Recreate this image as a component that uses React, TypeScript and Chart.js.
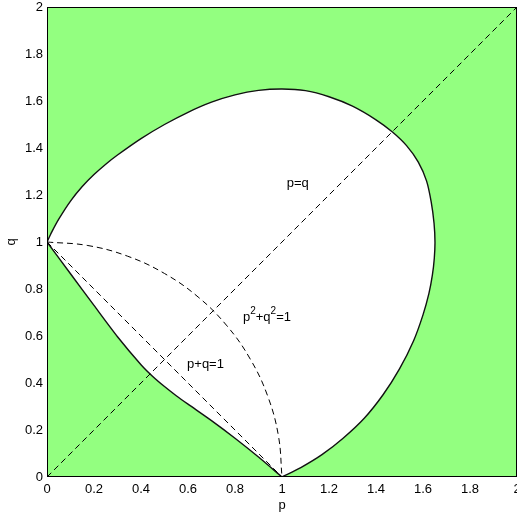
import React, { useEffect, useRef } from 'react';
import { Chart, registerables } from 'chart.js';

Chart.register(...registerables);

// Boundary of the white region (p, q), traced clockwise from (0,1)
const boundaryP = [
  0, 0.02, 0.05, 0.1, 0.15, 0.2, 0.25, 0.3, 0.4, 0.5, 0.6, 0.7, 0.8, 0.9, 1.0,
  1.1, 1.2, 1.3, 1.4, 1.47, 1.53, 1.58, 1.615, 1.635, 1.647, 1.651,
  1.648, 1.64, 1.625, 1.6, 1.56, 1.5, 1.43, 1.35, 1.26, 1.17, 1.08, 1.0, 1.0,
  0.9, 0.8, 0.7, 0.6, 0.55, 0.5, 0.45, 0.4, 0.3, 0.2, 0.1, 0,
];
const boundaryQ = [
  1, 1.042, 1.097, 1.174, 1.236, 1.287, 1.331, 1.37, 1.44, 1.5, 1.552, 1.595, 1.626, 1.645, 1.651,
  1.644, 1.618, 1.578, 1.52, 1.468, 1.41, 1.34, 1.26, 1.17, 1.08, 1.0,
  0.93, 0.86, 0.78, 0.69, 0.58, 0.46, 0.35, 0.25, 0.165, 0.095, 0.04, 0, 0,
  0.085, 0.165, 0.24, 0.31, 0.346, 0.385, 0.428, 0.478, 0.597, 0.73, 0.865, 1,
];

// Quarter circle p^2 + q^2 = 1
const circleP = [0, 0.174, 0.342, 0.5, 0.643, 0.766, 0.866, 0.94, 0.985, 1];
const circleQ = [1, 0.985, 0.94, 0.866, 0.766, 0.643, 0.5, 0.342, 0.174, 0];

// p = q
const diagP = [0, 2];
const diagQ = [0, 2];

// p + q = 1
const sumP = [0, 1];
const sumQ = [1, 0];

const tickValues = [0, 0.2, 0.4, 0.6, 0.8, 1, 1.2, 1.4, 1.6, 1.8, 2];
const tickLabels = ['0', '0.2', '0.4', '0.6', '0.8', '1', '1.2', '1.4', '1.6', '1.8', '2'];

// Annotation texts: parts [text, isSuperscript], anchor (p, q) = left baseline
const annotations = [
  { parts: [['p=q', false]], p: 1.02, q: 1.235 },
  { parts: [['p', false], ['2', true], ['+q', false], ['2', true], ['=1', false]], p: 0.834, q: 0.665 },
  { parts: [['p+q=1', false]], p: 0.596, q: 0.465 },
];

const FONT = '"Liberation Sans", Arial, Helvetica, sans-serif';
const GREEN = 'rgb(147,255,128)';

const zip = (xs: number[], ys: number[]) => xs.map((x, i) => ({ x, y: ys[i] }));

export default function App() {
  const ref = useRef<HTMLCanvasElement | null>(null);

  useEffect(() => {
    if (!ref.current) return;
    const bgPlugin = {
      id: 'bgAndText',
      beforeDatasetsDraw(chart: any) {
        const { ctx, chartArea: a } = chart;
        ctx.save();
        ctx.fillStyle = GREEN;
        ctx.fillRect(a.left, a.top, a.right - a.left, a.bottom - a.top);
        ctx.restore();
      },
      afterDatasetsDraw(chart: any) {
        const { ctx, chartArea: a, scales } = chart;
        ctx.save();
        ctx.strokeStyle = '#000';
        ctx.lineWidth = 1;
        ctx.strokeRect(Math.round(a.left) + 0.5, Math.round(a.top) + 0.5, a.right - a.left - 1, a.bottom - a.top - 1);
        ctx.fillStyle = '#000';
        ctx.textBaseline = 'alphabetic';
        ctx.textAlign = 'left';
        for (const an of annotations) {
          let x = scales.x.getPixelForValue(an.p);
          const y = scales.y.getPixelForValue(an.q);
          for (const [t, sup] of an.parts as [string, boolean][]) {
            ctx.font = sup ? `10px ${FONT}` : `13px ${FONT}`;
            ctx.fillText(t, x, sup ? y - 7 : y);
            x += ctx.measureText(t).width;
          }
        }
        ctx.restore();
      },
    };

    const dashed = {
      borderColor: '#000',
      borderWidth: 1,
      borderDash: [6, 4],
      pointRadius: 0,
      fill: false,
      order: 1,
    };

    const chart = new Chart(ref.current, {
      type: 'line',
      data: {
        datasets: [
          { ...dashed, data: zip(diagP, diagQ) },
          { ...dashed, data: zip(sumP, sumQ) },
          { ...dashed, data: zip(circleP, circleQ), tension: 0.4 },
          {
            data: zip(boundaryP, boundaryQ),
            borderColor: '#111',
            borderWidth: 1.4,
            backgroundColor: '#fff',
            pointRadius: 0,
            tension: 0.25,
            fill: 'shape',
            order: 5,
          },
        ] as any,
      },
      options: {
        animation: false,
        responsive: false,
        events: [],
        layout: { padding: { top: 7, right: 0, bottom: 0, left: 0 } },
        plugins: { legend: { display: false }, tooltip: { enabled: false } },
        scales: {
          x: {
            type: 'linear',
            min: 0,
            max: 2,
            grid: { display: false, drawTicks: false },
            border: { display: false },
            afterBuildTicks: (s: any) => { s.ticks = tickValues.map((v) => ({ value: v })); },
            afterFit: (s: any) => { s.height = 40; s.paddingLeft = 0; s.paddingRight = 0; },
            ticks: {
              autoSkip: false,
              maxRotation: 0,
              padding: 5,
              color: '#000',
              font: { family: FONT, size: 13 },
              callback: (_v: any, i: number) => tickLabels[i],
            },
            title: { display: true, text: 'p', color: '#000', font: { family: FONT, size: 13 }, padding: { top: 0, bottom: 4 } },
          },
          y: {
            type: 'linear',
            min: 0,
            max: 2,
            grid: { display: false, drawTicks: false },
            border: { display: false },
            afterBuildTicks: (s: any) => { s.ticks = tickValues.map((v) => ({ value: v })); },
            afterFit: (s: any) => { s.width = 47; s.paddingTop = 0; s.paddingBottom = 0; },
            ticks: {
              autoSkip: false,
              padding: 4,
              color: '#000',
              font: { family: FONT, size: 13 },
              callback: (_v: any, i: number) => tickLabels[i],
            },
            title: { display: true, text: 'q', color: '#000', font: { family: FONT, size: 13 }, padding: { top: 4, bottom: 0 } },
          },
        },
      },
      plugins: [bgPlugin],
    } as any);
    return () => chart.destroy();
  }, []);

  return (
    <div style={{ position: 'absolute', left: 0, top: 0, width: 517, height: 517, background: '#fff' }}>
      <canvas ref={ref} width={517} height={517} style={{ width: 517, height: 517, display: 'block' }} />
    </div>
  );
}
